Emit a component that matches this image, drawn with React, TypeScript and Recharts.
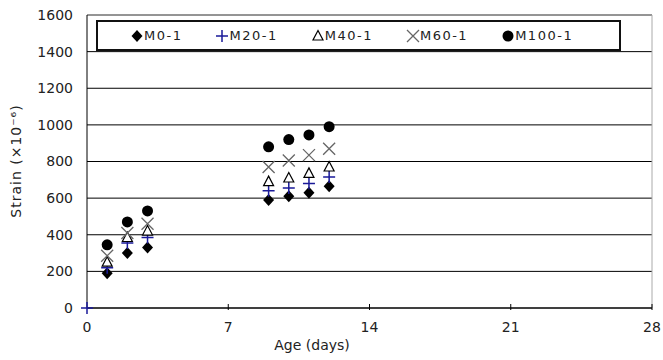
import React from 'react'
import { ScatterChart, Scatter, XAxis, YAxis, CartesianGrid, ReferenceLine } from 'recharts'

document.body.style.margin = '0'

// test ages (days) and measured strain per mix
const AGES = [0, 1, 2, 3, 9, 10, 11, 12]
const M0 = [null, 190, 300, 330, 590, 610, 630, 665]
const M20 = [0, 220, 355, 385, 640, 655, 680, 715]
const M40 = [null, 250, 385, 420, 690, 710, 735, 770]
const M60 = [null, 285, 410, 460, 770, 805, 835, 870]
const M100 = [null, 345, 470, 530, 880, 920, 945, 990]

const X_TICKS = [0, 7, 14, 21, 28]
const Y_TICKS = [0, 200, 400, 600, 800, 1000, 1200, 1400, 1600]

const FONT = '"DejaVu Sans", sans-serif'
const TEXT = '#222'

const toPoints = (vals: (number | null)[]) =>
  AGES.map((age, i) => ({ age, strain: vals[i] })).filter((p) => p.strain !== null)

type Marker = 'diamond' | 'plus' | 'triangle' | 'cross' | 'circle'

const MarkerIcon = ({ kind, cx, cy }: { kind: Marker; cx: number; cy: number }) => {
  switch (kind) {
    case 'diamond':
      return <path d={`M${cx},${cy - 6}L${cx + 5.5},${cy}L${cx},${cy + 6}L${cx - 5.5},${cy}Z`} fill="#000" />
    case 'plus':
      return (
        <path d={`M${cx - 6},${cy}H${cx + 6}M${cx},${cy - 6}V${cy + 6}`} stroke="#1a1a99" strokeWidth={1.5} fill="none" />
      )
    case 'triangle':
      return (
        <path d={`M${cx},${cy - 5.5}L${cx + 5},${cy + 4}L${cx - 5},${cy + 4}Z`} stroke="#000" strokeWidth={1.2} fill="#fff" />
      )
    case 'cross':
      return (
        <path d={`M${cx - 6},${cy - 6}L${cx + 6},${cy + 6}M${cx + 6},${cy - 6}L${cx - 6},${cy + 6}`} stroke="#666" strokeWidth={1.3} fill="none" />
      )
    default:
      return <circle cx={cx} cy={cy} r={5.5} fill="#000" />
  }
}

const SERIES: { name: string; data: (number | null)[]; kind: Marker }[] = [
  { name: 'M0-1', data: M0, kind: 'diamond' },
  { name: 'M20-1', data: M20, kind: 'plus' },
  { name: 'M40-1', data: M40, kind: 'triangle' },
  { name: 'M60-1', data: M60, kind: 'cross' },
  { name: 'M100-1', data: M100, kind: 'circle' },
]

const XTick = (props: any) => {
  const { x, y, payload } = props
  return (
    <g>
      {payload.value > 0 && <line x1={x} y1={y} x2={x} y2={y - 6} stroke="#000" />}
      <text x={x} y={y + 22} textAnchor="middle" fontSize={14} fontFamily={FONT} fill={TEXT}>
        {payload.value}
      </text>
    </g>
  )
}

// legend sits over the plot, so it is laid out outside recharts
const LegendBox = () => (
  <div
    style={{
      position: 'absolute',
      top: 20,
      left: 96,
      width: 525,
      boxSizing: 'border-box',
      height: 31,
      border: '2px solid #111',
      background: '#fff',
      display: 'flex',
      alignItems: 'center',
      gap: 33,
      paddingLeft: 32,
      fontFamily: FONT,
      fontSize: 13,
      letterSpacing: 1.5,
      color: TEXT,
    }}
  >
    {SERIES.map((s) => (
      <div key={s.name} style={{ display: 'flex', alignItems: 'center' }}>
        <svg width={14} height={14}>
          <MarkerIcon kind={s.kind} cx={7} cy={7} />
        </svg>
        <span>{s.name}</span>
      </div>
    ))}
  </div>
)

export default function App() {
  return (
    <div style={{ position: 'relative', width: 663, height: 360 }}>
      <ScatterChart width={663} height={360} margin={{ top: 15, right: 11, left: 0, bottom: 0 }}>
        <CartesianGrid vertical={false} stroke="#000" strokeWidth={1} />
        <XAxis
          type="number"
          dataKey="age"
          domain={[0, 28]}
          ticks={X_TICKS}
          height={52}
          stroke="#000"
          tickLine={false}
          tickSize={0}
          tick={<XTick />}
          label={() => (
            <text x={312} y={350} textAnchor="middle" fontSize={14} fontFamily={FONT} fill={TEXT}>
              Age (days)
            </text>
          )}
        />
        <YAxis
          type="number"
          dataKey="strain"
          domain={[0, 1600]}
          ticks={Y_TICKS}
          width={87}
          stroke="#000"
          tickLine={false}
          tickSize={0}
          tickMargin={14}
          tick={{ fontSize: 14, fontFamily: FONT, fill: TEXT }}
          label={() => (
            <text
              x={21}
              y={161}
              transform="rotate(-90 21 161)"
              textAnchor="middle"
              fontSize={14}
              fontFamily={FONT}
              letterSpacing={1}
              fill={TEXT}
            >
              Strain (×10⁻⁶)
            </text>
          )}
        />
        <ReferenceLine y={1600} stroke="#aaa" />
        <ReferenceLine x={28} stroke="#aaa" />
        {SERIES.map((s) => (
          <Scatter
            key={s.name}
            name={s.name}
            data={toPoints(s.data)}
            isAnimationActive={false}
            shape={(p: any) => <MarkerIcon kind={s.kind} cx={p.cx} cy={p.cy} />}
          />
        ))}
      </ScatterChart>
      <LegendBox />
    </div>
  )
}
